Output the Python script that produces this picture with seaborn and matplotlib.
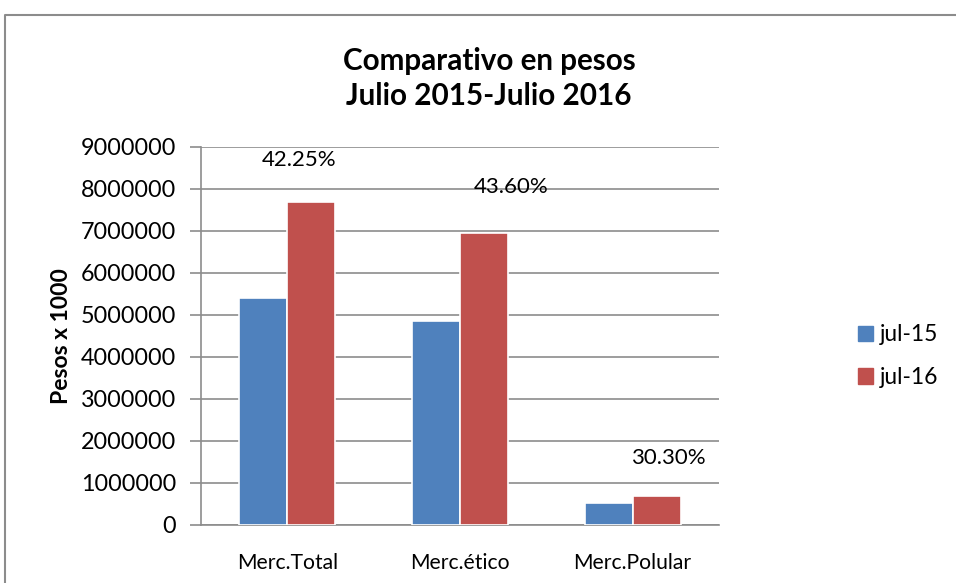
import matplotlib
matplotlib.use("Agg")
import matplotlib.pyplot as plt
import matplotlib.patches as mpatches
from matplotlib.lines import Line2D
from matplotlib.ticker import FixedLocator
import seaborn as sns
import pandas as pd

# data
categorias = ["Merc.Total", "Merc.ético", "Merc.Polular"]
jul_15 = [5400000, 4850000, 530000]
jul_16 = [7680000, 6960000, 690000]
variacion = ["42.25%", "43.60%", "30.30%"]
series = ["jul-15", "jul-16"]
colores = ["#4F81BD", "#C0504D"]

df = pd.DataFrame({
    "categoria": categorias * 2,
    "serie": [series[0]] * 3 + [series[1]] * 3,
    "valor": jul_15 + jul_16,
})

sns.set_style("white")
plt.rcParams["font.family"] = ["Lato", "DejaVu Sans"]
plt.rcParams["text.color"] = "black"
plt.rcParams["xtick.color"] = "black"
plt.rcParams["ytick.color"] = "black"
plt.rcParams["axes.labelcolor"] = "black"

fig = plt.figure(figsize=(9.56, 5.83), dpi=100)
ax = fig.add_axes([0.2103, 0.0995, 0.5418, 0.6484])

sns.barplot(data=df, x="categoria", y="valor", hue="serie", palette=colores,
            width=0.555, edgecolor="white", linewidth=1.2, saturation=1,
            ax=ax, zorder=3)

ax.set_ylim(0, 9000000)
ax.set_xlim(-0.5, 2.5)
ax.set_yticks(range(0, 9000001, 1000000))
ax.set_yticklabels([str(v) for v in range(0, 9000001, 1000000)])
ax.yaxis.grid(True, color="#8C8C8C", linewidth=1.2, zorder=0)
ax.set_axisbelow(True)

# Excel style tick marks between categories
ax.xaxis.set_minor_locator(FixedLocator([-0.5, 0.5, 1.5, 2.5]))
ax.tick_params(axis="x", which="major", length=0, labelsize=15.2, pad=20)
ax.tick_params(axis="x", which="minor", length=8, width=1.2, color="#8C8C8C")
ax.tick_params(axis="y", length=8, width=1.2, color="#8C8C8C", labelcolor="black",
               labelsize=16.8, pad=10, left=True)

for s in ["top", "right"]:
    ax.spines[s].set_visible(False)
for s in ["left", "bottom"]:
    ax.spines[s].set_color("#8C8C8C")
    ax.spines[s].set_linewidth(1.2)

ax.set_xlabel("")
ax.set_ylabel("Pesos x 1000", fontsize=16.5, fontweight="bold", labelpad=6)

# percentage labels above the jul-16 bars
label_dx = [-0.07, 0.16, 0.07]
label_dy = [1020000, 1090000, 910000]
for i, bar in enumerate(ax.containers[1]):
    cx = bar.get_x() + bar.get_width() / 2
    ax.text(cx + label_dx[i], bar.get_height() + label_dy[i], variacion[i],
            ha="center", va="center", fontsize=16, zorder=5)

handles = [mpatches.Patch(color=c, label=s) for c, s in zip(colores, series)]
fig.legend(handles=handles, loc="center left", bbox_to_anchor=(0.898, 0.389),
           frameon=False, fontsize=16.5, handlelength=0.65, handleheight=0.65,
           handletextpad=0.3, labelspacing=0.95, borderpad=0, borderaxespad=0)
ax.get_legend().remove()

fig.text(0.5115, 0.866, "Comparativo en pesos\nJulio 2015-Julio 2016",
         ha="center", va="center", fontsize=21.3, fontweight="bold", linespacing=1.3)

# chart area border (only top and left edges are inside the picture)
fig.add_artist(Line2D([0.005, 0.005, 1.0], [0.0, 0.974, 0.974], transform=fig.transFigure,
                      color="#8C8C8C", linewidth=1.5))

fig.savefig("out.png", dpi=100)
